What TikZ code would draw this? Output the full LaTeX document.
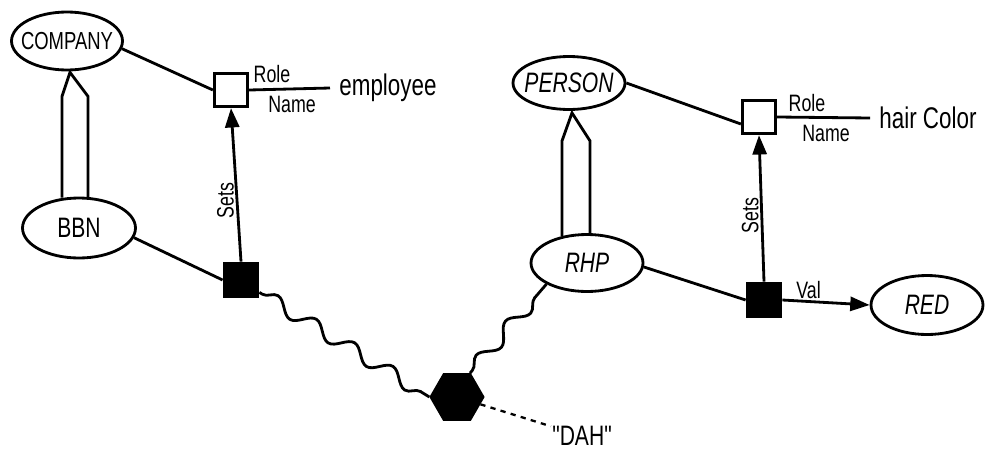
\documentclass[tikz,border=0pt]{standalone}
\usepackage{fontspec}
\setmainfont{Liberation Sans}
\newfontfamily\handfont[FakeStretch=0.75]{Liberation Sans}
\usetikzlibrary{shapes.geometric,arrows.meta,decorations.pathmorphing,calc}
\begin{document}
\begin{tikzpicture}[x=0.02cm,y=-0.02cm,line width=1.6pt,
  concept/.style={draw,ellipse,inner sep=0pt,minimum width=2.24cm,minimum height=1.14cm},
  clbl/.style={font=\handfont\fontsize{16}{18}\selectfont,inner sep=0pt},
  slbl/.style={font=\handfont\fontsize{16}{18}\selectfont\itshape,inner sep=0pt},
  opensq/.style={draw,fill=white,inner sep=0pt,minimum size=0.67cm},
  blacksq/.style={draw,fill=black,inner sep=0pt,minimum size=0.68cm},
  hexnode/.style={regular polygon,regular polygon sides=6,draw,fill=black,inner sep=0pt,minimum size=1.04cm},
  lbl/.style={font=\handfont\fontsize{13.5}{15}\selectfont,inner sep=1pt},
  word/.style={font=\handfont\fontsize{17}{19}\selectfont,inner sep=0pt,anchor=west},
  inh/.style={line width=1.6pt,line join=miter},
  setsarrow/.style={-{Triangle[length=11pt,width=8pt]}},
  wavy/.style={decorate,decoration={snake,amplitude=0.14cm,segment length=0.9cm,pre length=2pt,post length=2pt}}]
\useasboundingbox (0,0) rectangle (1000,453);
\fill[white] (0,0) rectangle (1000,453);

% nodes
\node[concept,minimum width=2.22cm,minimum height=1.16cm,
  label={[clbl,font=\handfont\fontsize{14}{16}\selectfont]center:COMPANY}] (company) at (67,41) {};
\node[concept,minimum width=2.26cm,minimum height=1.2cm,label={[clbl]center:BBN}] (bbn) at (79,228) {};
\node[concept,minimum height=1.06cm,label={[slbl]center:PERSON}] (person) at (569,83) {};
\node[concept,label={[slbl]center:RHP}] (rhp) at (587,263) {};
\node[concept,minimum height=1.18cm,label={[slbl]center:RED}] (red) at (927,305) {};

\node[opensq] (os1) at (231,90) {};
\node[opensq] (os2) at (759,117) {};
\node[blacksq] (bs1) at (241,280) {};
\node[blacksq] (bs2) at (764,300) {};
\node[hexnode] (hex) at (457,397) {};

\node[word] (emp) at (338,88) {employee};
\node[word] (hc) at (878,118) {hair Color};
\node[font=\handfont\fontsize{16}{18}\selectfont,inner sep=0pt] (dah) at (582,436) {"DAH"};

% inheritance (double) arrows
\draw[inh] ($(bbn.north)+(-17,1)$) -- ($(company.south)+(-5,25)$) -- ($(company.south)+(3,1)$)
  -- ($(company.south)+(21,25)$) -- ($(bbn.north)+(9,1)$);
\draw[inh] ($(rhp.north)+(-25,3)$) -- ($(person.south)+(-7,30)$) -- ($(person.south)+(3,2)$)
  -- ($(person.south)+(21,30)$) -- ($(rhp.north)+(3,1)$);

% plain links
\draw (company.-8) -- (os1.west);
\draw (bbn.-10) -- (bs1.west);
\draw (person.east) -- ($(os2.west)+(0,7)$);
\draw (rhp.-4) -- (bs2.west);

% role lines
\draw (os1.east) -- ($(emp.west)+(-8,0)$) coordinate (r1);
\node[lbl] at (272,74) {Role};
\node[lbl] at (292,104) {Name};
\draw (os2.east) -- ($(hc.west)+(-8,0)$) coordinate (r2);
\node[lbl] at (807,103) {Role};
\node[lbl] at (826,133) {Name};

% Sets arrows
\draw[setsarrow] (bs1.north) -- (os1.south) node[pos=0.4,lbl,rotate=90,above] {Sets};
\draw[setsarrow] (bs2.north) -- (os2.south) node[pos=0.45,lbl,rotate=90,above] {Sets};

% Val arrow
\draw[setsarrow] (bs2.east) -- (red.west) node[pos=0.3,lbl,above] {Val};

% wavy links
\draw[wavy] ($(bs1.south east)+(0,-6)$) -- (hex.west);
\draw[wavy] ($(hex.north)+(13,0)$) -- (rhp.south west);

% dashed link
\draw[dashed,line width=1.3pt] (hex) -- (dah);
\end{tikzpicture}
\end{document}
